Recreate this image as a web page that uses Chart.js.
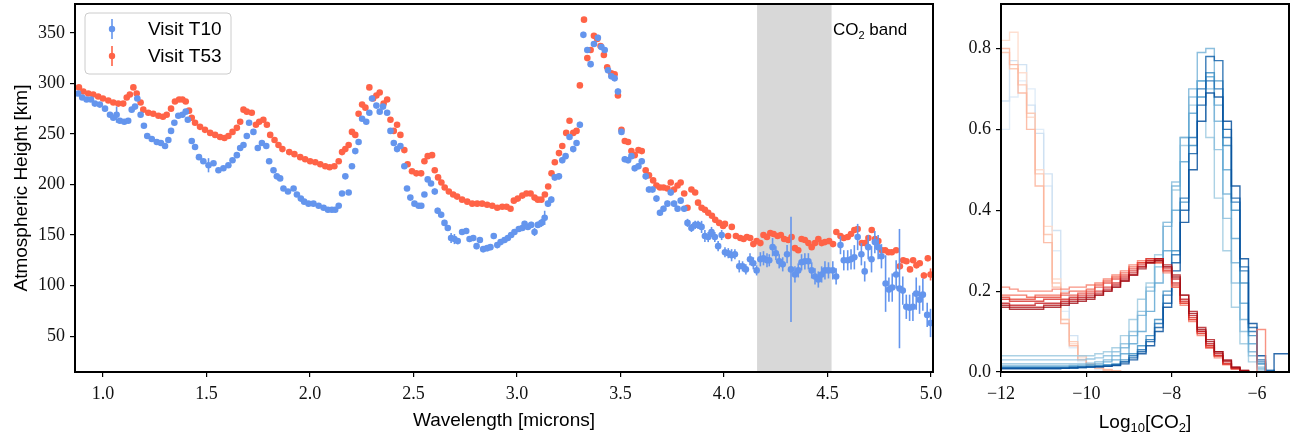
<!DOCTYPE html>
<html>
<head>
<meta charset="utf-8">
<script src="https://cdn.jsdelivr.net/npm/chart.js@4.4.1/dist/chart.umd.min.js"></script>
<style>
  html, body { margin: 0; padding: 0; background: #fff; }
  body { width: 1299px; height: 441px; position: relative; overflow: hidden; }
  #specWrap { position: absolute; left: 0; top: 0; width: 950px; height: 441px; }
  #histWrap { position: absolute; left: 950px; top: 0; width: 349px; height: 441px; }
</style>
</head>
<body>
<div id="specWrap"><canvas id="specChart" width="950" height="441"></canvas></div>
<div id="histWrap"><canvas id="histChart" width="349" height="441"></canvas></div>
<script>
// ---- spectrum data: [wavelength (micron), height (km), error (km)] ----
const t10Points = [
  [0.880,290,2],[0.900,286,2],[0.921,284,2],[0.942,284,2],[0.961,280,2],[0.985,279,2],
  [1.010,275,2],[1.034,269,2],[1.050,266,2],[1.066,269,8],[1.082,263,2],[1.103,262,2],
  [1.122,263,2],[1.139,274,2],[1.155,277,2],[1.166,285,2],[1.182,269,2],[1.198,258,2],
  [1.214,248,2],[1.236,245,2],[1.260,242,2],[1.280,241,2],[1.300,238,2],[1.316,244,2],
  [1.329,253,2],[1.345,261,2],[1.364,268,2],[1.384,269,2],[1.400,272,2],[1.410,264,2],
  [1.429,243,2],[1.445,237,2],[1.464,227,2],[1.485,223,2],[1.510,219,7],[1.534,221,2],
  [1.558,214,2],[1.582,216,2],[1.606,219,2],[1.626,224,2],[1.647,229,2],[1.663,236,2],
  [1.679,239,2],[1.695,248,2],[1.706,261,2],[1.727,252,2],[1.748,236,2],[1.768,241,2],
  [1.789,238,2],[1.803,223,2],[1.824,214,2],[1.840,208,2],[1.856,206,2],[1.872,196,2],
  [1.894,193,2],[1.921,196,2],[1.937,190,2],[1.956,186,2],[1.972,183,2],[1.993,181,2],
  [2.017,181,2],[2.042,179,2],[2.066,177,2],[2.087,175,2],[2.106,175,2],[2.122,175,2],
  [2.139,179,2],[2.155,191,2],[2.171,208,2],[2.187,192,2],[2.203,218,2],[2.219,233,2],
  [2.235,242,2],[2.252,265,2],[2.272,262,2],[2.287,271,2],[2.300,285,2],[2.321,278,2],
  [2.337,272,2],[2.353,277,2],[2.373,271,2],[2.389,253,2],[2.405,241,2],[2.421,235,2],
  [2.437,238,2],[2.456,218,2],[2.469,196,2],[2.485,187,2],[2.505,181,2],[2.525,179,2],
  [2.538,179,2],[2.553,190,2],[2.569,205,2],[2.585,201,2],[2.603,193,3],[2.617,174,3],
  [2.634,170,3],[2.650,162,3],[2.666,157,3],[2.682,147,5],[2.698,146,5],[2.714,144,3],
  [2.735,153,3],[2.755,154,3],[2.771,146,3],[2.789,147,3],[2.805,139,3],[2.821,145,3],
  [2.837,136,3],[2.856,137,3],[2.872,138,3],[2.888,149,3],[2.905,140,3],[2.921,143,3],
  [2.940,145,3],[2.956,147,3],[2.972,150,3],[2.988,153,3],[3.009,156,3],[3.026,157,3],
  [3.037,161,3],[3.053,158,3],[3.069,160,3],[3.085,153,4],[3.101,160,3],[3.118,162,4],
  [3.134,167,7],[3.150,181,3],[3.166,185,3],[3.183,207,3],[3.203,208,3],[3.219,224,3],
  [3.235,228,3],[3.254,247,3],[3.272,235,3],[3.288,241,3],[3.304,259,3],[3.321,348,3],
  [3.340,333,3],[3.356,319,3],[3.372,339,3],[3.391,345,3],[3.408,336,3],[3.424,333,3],
  [3.440,313,3],[3.456,307,3],[3.472,305,3],[3.488,292,3],[3.505,252,3],[3.521,225,3],
  [3.537,224,3],[3.553,228,3],[3.569,216,3],[3.587,218,3],[3.603,223,3],[3.622,208,3],
  [3.638,195,3],[3.655,195,3],[3.674,186,3],[3.691,172,3],[3.708,176,3],[3.727,181,3],
  [3.743,192,3],[3.759,181,3],[3.776,176,3],[3.791,184,3],[3.808,176,3],[3.824,162,4],
  [3.843,157,4],[3.861,160,4],[3.875,160,4],[3.892,158,6],[3.908,149,6],[3.924,148,5],
  [3.940,153,5],[3.956,148,5],[3.972,139,5],[3.989,150,5],[4.005,133,5],[4.021,132,5],
  [4.037,130,6],[4.053,131,5],[4.074,119,6],[4.090,119,5],[4.106,116,5],[4.126,126,6],
  [4.142,122,6],[4.158,115,5],[4.176,126,7],[4.191,127,7],[4.208,125,7],[4.219,125,6],
  [4.235,138,9],[4.251,132,7],[4.267,124,7],[4.284,121,7],[4.305,131,9],[4.324,116,52],
  [4.343,111,8],[4.359,115,7],[4.375,123,8],[4.391,124,8],[4.408,124,8],[4.424,115,8],
  [4.440,109,8],[4.456,106,8],[4.472,111,8],[4.488,115,9],[4.505,115,8],[4.526,115,9],
  [4.542,109,8],[4.563,140,9],[4.579,125,10],[4.598,125,10],[4.614,126,10],[4.630,128,12],
  [4.646,148,13],[4.664,131,11],[4.680,114,10],[4.697,138,12],[4.713,126,13],[4.729,143,11],
  [4.745,138,12],[4.761,129,12],[4.781,102,28],[4.797,96,12],[4.813,98,14],[4.832,111,14],
  [4.848,97,59],[4.864,95,14],[4.881,79,12],[4.897,78,13],[4.913,79,14],[4.929,92,16],
  [4.945,86,14],[4.961,91,16],[4.982,71,12],[4.998,63,14]
];

const t53Points = [
  [0.884,296,1],[0.905,292,1],[0.929,290,1],[0.953,289,1],[0.977,287,1],[1.000,285,1],
  [1.026,283,1],[1.050,281,1],[1.074,280,1],[1.098,280,1],[1.115,286,1],[1.130,289,1],
  [1.147,296,1],[1.163,290,1],[1.182,281,1],[1.195,274,1],[1.219,271,1],[1.243,270,1],
  [1.268,268,1],[1.290,267,1],[1.308,269,1],[1.329,275,1],[1.348,282,1],[1.368,284,1],
  [1.384,284,1],[1.400,282,1],[1.416,273,1],[1.429,266,1],[1.445,261,1],[1.469,257,1],
  [1.493,254,1],[1.518,251,1],[1.542,249,1],[1.566,247,1],[1.587,246,1],[1.606,248,1],
  [1.626,252,1],[1.647,256,1],[1.663,262,1],[1.679,274,1],[1.695,272,1],[1.719,271,1],
  [1.739,259,1],[1.755,262,1],[1.775,264,1],[1.792,259,1],[1.808,249,1],[1.829,244,1],
  [1.848,239,1],[1.867,235,1],[1.900,232,1],[1.925,230,1],[1.953,227,1],[1.977,225,1],
  [2.001,223,1],[2.026,222,1],[2.050,220,1],[2.074,218,1],[2.095,217,1],[2.118,218,1],
  [2.139,223,1],[2.155,232,1],[2.171,235,1],[2.187,239,1],[2.203,252,1],[2.219,249,1],
  [2.235,270,1],[2.252,279,1],[2.268,276,1],[2.287,296,1],[2.305,285,1],[2.321,288,1],
  [2.337,291,1],[2.356,280,1],[2.373,284,1],[2.389,264,1],[2.405,253,1],[2.421,259,1],
  [2.437,249,1],[2.456,234,1],[2.472,220,1],[2.493,213,1],[2.514,211,1],[2.537,211,1],
  [2.553,223,1],[2.569,228,1],[2.590,229,1],[2.603,214,1],[2.619,207,1],[2.635,202,1],
  [2.651,197,1],[2.671,193,1],[2.692,190,1],[2.711,188,1],[2.735,185,1],[2.760,183,1],
  [2.784,181,1],[2.808,181,1],[2.832,181,1],[2.856,180,1],[2.881,179,1],[2.905,177,1],
  [2.929,178,1],[2.950,178,1],[2.969,176,1],[2.985,184,1],[3.004,186,1],[3.026,189,1],
  [3.046,191,1],[3.066,191,1],[3.085,187,1],[3.101,185,1],[3.118,185,1],[3.135,190,1],
  [3.151,198,1],[3.167,211,1],[3.183,222,1],[3.203,231,1],[3.219,238,1],[3.238,251,1],
  [3.254,263,1],[3.272,251,1],[3.288,253,1],[3.304,298,1],[3.324,363,1],[3.340,325,1],
  [3.356,333,1],[3.372,347,1],[3.388,344,1],[3.404,337,1],[3.420,328,1],[3.436,316,1],
  [3.456,310,1],[3.472,309,1],[3.488,288,1],[3.505,254,1],[3.521,243,1],[3.537,242,1],
  [3.553,233,1],[3.569,229,1],[3.587,234,1],[3.603,233,1],[3.622,214,1],[3.638,209,1],
  [3.658,204,1],[3.674,199,1],[3.691,197,1],[3.708,197,1],[3.727,196,1],[3.743,202,1],
  [3.759,195,1],[3.776,199,1],[3.791,202,1],[3.808,191,1],[3.824,177,1],[3.843,195,1],
  [3.861,192,1],[3.875,182,1],[3.892,177,1],[3.908,175,1],[3.924,172,1],[3.942,169,1],
  [3.958,165,1],[3.977,162,1],[3.996,159,1],[4.005,161,1],[4.020,149,1],[4.038,158,1],
  [4.058,149,1],[4.079,147,1],[4.095,146,1],[4.111,148,1],[4.127,147,1],[4.142,141,1],
  [4.158,144,1],[4.176,142,1],[4.191,150,1],[4.208,148,1],[4.224,152,1],[4.240,151,1],
  [4.259,149,1],[4.275,150,1],[4.291,146,1],[4.311,145,1],[4.327,148,1],[4.343,137,1],
  [4.359,135,1],[4.375,146,1],[4.391,145,1],[4.408,142,1],[4.424,138,1],[4.440,142,1],
  [4.456,146,1],[4.472,142,1],[4.488,143,1],[4.508,144,1],[4.527,141,1],[4.543,153,1],
  [4.563,149,1],[4.579,147,1],[4.598,148,1],[4.614,151,1],[4.630,155,1],[4.646,156,1],
  [4.666,142,1],[4.682,142,1],[4.698,147,1],[4.714,155,1],[4.730,146,1],[4.746,144,1],
  [4.763,135,1],[4.779,135,1],[4.795,133,1],[4.811,133,1],[4.832,135,2],[4.850,119,2],
  [4.866,125,2],[4.882,124,2],[4.899,116,2],[4.914,125,2],[4.930,120,2],[4.946,122,2],
  [4.966,110,3],[4.985,127,3],[4.998,111,6]
];

const co2Band = [4.16, 4.52];
const specXTicks = [1.0, 1.5, 2.0, 2.5, 3.0, 3.5, 4.0, 4.5, 5.0];
const specYTicks = [50, 100, 150, 200, 250, 300, 350];

// ---- posterior histograms of log10(CO2), bin edges -12.0 ... -5.2 ----
const binEdges = [-12.0,-11.8,-11.6,-11.4,-11.2,-11.0,-10.8,-10.6,-10.4,-10.2,-10.0,-9.8,
  -9.6,-9.4,-9.2,-9.0,-8.8,-8.6,-8.4,-8.2,-8.0,-7.8,-7.6,-7.4,-7.2,-7.0,-6.8,-6.6,-6.4,
  -6.2,-6.0,-5.8,-5.6,-5.4,-5.2];

const blueHist1 = [0.55,0.60,0.68,0.72,0.70,0.60,0.46,0.30,0.15,0.06,0.025,0.012,0.006,0.004,0.002,0,0,0,0,0,0,0,0,0,0,0,0,0,0,0,0,0,0,0];
const blueHist2 = [0.66,0.67,0.77,0.76,0.66,0.59,0.49,0.35,0.20,0.09,0.04,0.02,0.01,0.005,0.003,0,0,0,0,0,0,0,0,0,0,0,0,0,0,0,0,0,0,0];
const blueHist3 = [0.04,0.04,0.04,0.04,0.04,0.04,0.04,0.04,0.04,0.04,0.04,0.04,0.045,0.05,0.06,0.09,0.13,0.18,0.22,0.29,0.37,0.45,0.56,0.66,0.72,0.58,0.43,0.30,0.16,0.07,0.025,0.005,0,0];
const blueHist9 = [0.03,0.03,0.03,0.03,0.03,0.03,0.03,0.03,0.03,0.03,0.03,0.032,0.035,0.04,0.05,0.07,0.10,0.15,0.21,0.28,0.37,0.47,0.58,0.68,0.72,0.70,0.55,0.38,0.22,0.10,0.04,0.008,0,0];
const blueHist4 = [0.02,0.02,0.02,0.02,0.02,0.02,0.02,0.02,0.02,0.02,0.02,0.022,0.025,0.03,0.04,0.06,0.09,0.14,0.20,0.26,0.36,0.46,0.58,0.70,0.79,0.80,0.62,0.44,0.27,0.13,0.05,0.012,0,0];
const blueHist5 = [0.015,0.015,0.015,0.015,0.015,0.015,0.015,0.015,0.015,0.016,0.017,0.018,0.02,0.025,0.03,0.045,0.07,0.10,0.15,0.22,0.30,0.40,0.52,0.64,0.72,0.73,0.66,0.50,0.33,0.17,0.07,0.02,0.003,0];
const blueHist6 = [0.012,0.012,0.012,0.012,0.012,0.012,0.012,0.012,0.012,0.013,0.014,0.015,0.016,0.018,0.02,0.03,0.045,0.065,0.09,0.13,0.20,0.30,0.42,0.56,0.68,0.74,0.72,0.56,0.40,0.22,0.09,0.02,0.003,0];
const blueHist10 = [0.01,0.01,0.01,0.01,0.01,0.01,0.01,0.01,0.01,0.01,0.011,0.012,0.013,0.015,0.018,0.025,0.04,0.055,0.08,0.12,0.19,0.29,0.43,0.58,0.70,0.72,0.70,0.58,0.42,0.25,0.10,0.025,0.004,0];
const blueHist7 = [0.01,0.01,0.01,0.01,0.01,0.01,0.01,0.01,0.01,0.011,0.012,0.013,0.014,0.015,0.017,0.025,0.035,0.05,0.075,0.11,0.17,0.27,0.40,0.54,0.66,0.78,0.77,0.60,0.43,0.26,0.11,0.03,0.004,0];
const blueHist8 = [0.008,0.008,0.008,0.008,0.008,0.008,0.008,0.008,0.009,0.01,0.011,0.012,0.013,0.014,0.016,0.02,0.03,0.045,0.065,0.10,0.16,0.25,0.37,0.50,0.62,0.69,0.68,0.62,0.46,0.28,0.12,0.04,0,0.045];

const redHist1 = [0.87,0.82,0.84,0.74,0.63,0.50,0.36,0.23,0.13,0.07,0.035,0.02,0.01,0.005,0.003,0,0,0,0,0,0,0,0,0,0,0,0,0,0,0,0,0,0,0];
const redHist2 = [0.80,0.79,0.75,0.71,0.64,0.49,0.34,0.22,0.13,0.075,0.04,0.02,0.012,0.006,0.003,0,0,0,0,0,0,0,0,0,0,0,0,0,0,0,0,0,0,0];
const redHist3 = [0.78,0.80,0.76,0.69,0.60,0.46,0.32,0.21,0.12,0.065,0.03,0.018,0.01,0.005,0.002,0,0,0,0,0,0,0,0,0,0,0,0,0,0,0,0,0,0,0];
const redHist4 = [0.21,0.21,0.205,0.20,0.20,0.20,0.20,0.205,0.205,0.21,0.21,0.215,0.22,0.23,0.24,0.25,0.265,0.275,0.28,0.27,0.245,0.21,0.165,0.125,0.09,0.06,0.035,0.018,0.008,0.002,0,0.105,0,0];
const redHist5 = [0.195,0.19,0.19,0.19,0.185,0.19,0.19,0.19,0.195,0.20,0.20,0.205,0.215,0.225,0.235,0.245,0.26,0.27,0.275,0.27,0.25,0.21,0.17,0.13,0.095,0.065,0.04,0.02,0.008,0.002,0,0,0,0];
const redHist9 = [0.185,0.185,0.18,0.18,0.18,0.185,0.185,0.185,0.19,0.19,0.195,0.20,0.21,0.22,0.23,0.24,0.255,0.27,0.27,0.28,0.25,0.215,0.17,0.13,0.095,0.06,0.04,0.02,0.008,0.002,0,0,0,0];
const redHist6 = [0.18,0.18,0.175,0.175,0.175,0.175,0.18,0.18,0.18,0.185,0.19,0.195,0.20,0.21,0.22,0.235,0.25,0.265,0.28,0.275,0.255,0.22,0.175,0.135,0.10,0.065,0.04,0.02,0.01,0.003,0,0,0,0];
const redHist7 = [0.17,0.17,0.165,0.165,0.165,0.17,0.17,0.17,0.175,0.18,0.185,0.19,0.195,0.205,0.215,0.23,0.245,0.26,0.275,0.28,0.26,0.23,0.18,0.14,0.10,0.07,0.045,0.025,0.01,0.003,0,0,0,0];
const redHist10 = [0.165,0.165,0.16,0.16,0.16,0.16,0.165,0.165,0.17,0.175,0.18,0.185,0.19,0.20,0.21,0.225,0.24,0.26,0.27,0.28,0.265,0.24,0.19,0.15,0.11,0.08,0.05,0.028,0.012,0.004,0,0,0,0];
const redHist8 = [0.16,0.16,0.155,0.155,0.155,0.155,0.16,0.16,0.165,0.17,0.175,0.18,0.19,0.20,0.21,0.225,0.24,0.255,0.27,0.275,0.26,0.235,0.19,0.145,0.105,0.075,0.05,0.03,0.012,0.004,0,0,0,0];

const blueShades = ['rgba(222,235,247,0.9)','rgba(205,224,242,0.9)','rgba(158,202,225,0.85)','rgba(140,192,222,0.85)',
  'rgba(120,180,216,0.85)','rgba(98,168,211,0.85)','rgba(66,146,198,0.85)','rgba(40,120,185,0.85)',
  'rgba(22,100,170,0.85)','rgba(8,81,156,0.85)'];
const redShades = ['rgba(254,220,204,0.9)','rgba(252,198,176,0.9)','rgba(251,180,155,0.85)','rgba(246,120,100,0.8)',
  'rgba(240,88,68,0.8)','rgba(230,68,55,0.8)','rgba(215,45,40,0.8)','rgba(195,28,32,0.8)',
  'rgba(178,20,26,0.8)','rgba(160,12,20,0.8)'];

const histXTicks = [-12, -10, -8, -6];
const histYTicks = [0, 0.2, 0.4, 0.6, 0.8];

const T10_COLOR = '#6495ED';
const T53_COLOR = '#FF6347';
const SERIF = '"Liberation Serif", "DejaVu Serif", serif';
const SANS = '"Liberation Sans", Arial, sans-serif';

function fixedTicks(values) {
    return (scale) => { scale.ticks = values.map(v => ({ value: v })); };
}

function minusLabel(v) {
    return v < 0 ? '\u2212' + Math.abs(v) : String(v);
}

function drawFrame(chart) {
    const { ctx, chartArea: a } = chart;
    ctx.save();
    ctx.strokeStyle = '#000';
    ctx.lineWidth = 2;
    ctx.strokeRect(a.left, a.top, a.right - a.left, a.bottom - a.top);
    ctx.restore();
}

// draw text with subscript parts: parts = [[text, isSub], ...]
function drawRichText(ctx, parts, cx, cy, size) {
    const subSize = Math.round(size * 0.7);
    let total = 0;
    parts.forEach(([t, sub]) => {
        ctx.font = (sub ? subSize : size) + 'px ' + SANS;
        total += ctx.measureText(t).width;
    });
    let x = cx - total / 2;
    ctx.textBaseline = 'alphabetic';
    ctx.textAlign = 'left';
    parts.forEach(([t, sub]) => {
        ctx.font = (sub ? subSize : size) + 'px ' + SANS;
        ctx.fillText(t, x, cy + (sub ? size * 0.22 : 0));
        x += ctx.measureText(t).width;
    });
}

function tickScale(min, max, ticks, fmt, fitSize, isX) {
    return {
        type: 'linear',
        min: min,
        max: max,
        afterBuildTicks: fixedTicks(ticks),
        afterFit: (scale) => {
            if (isX) scale.height = fitSize; else scale.width = fitSize;
            // labels never sit on the axis ends, so no extra room is needed
            scale.paddingTop = 0;
            scale.paddingBottom = 0;
            scale.paddingLeft = 0;
            scale.paddingRight = 0;
        },
        grid: { display: true, drawOnChartArea: false, drawTicks: true, tickLength: 5, color: '#000', lineWidth: 1.2 },
        border: { display: false },
        ticks: {
            autoSkip: false,
            maxRotation: 0,
            color: '#111',
            padding: isX ? 6 : 5,
            font: { family: SERIF, size: 18 },
            callback: fmt
        }
    };
}

const specPlugin = {
    id: 'specDecor',
    beforeDatasetsDraw(chart) {
        const { ctx, chartArea: a, scales } = chart;
        const x0 = scales.x.getPixelForValue(co2Band[0]);
        const x1 = scales.x.getPixelForValue(co2Band[1]);
        ctx.save();
        ctx.fillStyle = '#d8d8d8';
        ctx.fillRect(x0, a.top, x1 - x0, a.bottom - a.top);
        ctx.restore();
    },
    beforeDatasetDraw(chart, args) {
        const { ctx, chartArea: a, scales } = chart;
        const ds = chart.data.datasets[args.index];
        ctx.save();
        ctx.beginPath();
        ctx.rect(a.left, a.top, a.right - a.left, a.bottom - a.top);
        ctx.clip();
        ctx.strokeStyle = ds.backgroundColor;
        ctx.lineWidth = 1.6;
        ds.errors.forEach((e, i) => {
            const p = ds.data[i];
            const x = scales.x.getPixelForValue(p.x);
            ctx.beginPath();
            ctx.moveTo(x, scales.y.getPixelForValue(p.y - e));
            ctx.lineTo(x, scales.y.getPixelForValue(p.y + e));
            ctx.stroke();
        });
        ctx.restore();
    },
    afterDraw(chart) {
        const { ctx, chartArea: a } = chart;
        drawFrame(chart);
        ctx.save();
        // legend box
        const lx = a.left + 10, ly = a.top + 9, lw = 146, lh = 61, r = 4;
        ctx.beginPath();
        ctx.moveTo(lx + r, ly);
        ctx.arcTo(lx + lw, ly, lx + lw, ly + lh, r);
        ctx.arcTo(lx + lw, ly + lh, lx, ly + lh, r);
        ctx.arcTo(lx, ly + lh, lx, ly, r);
        ctx.arcTo(lx, ly, lx + lw, ly, r);
        ctx.closePath();
        ctx.fillStyle = 'rgba(255,255,255,0.85)';
        ctx.fill();
        ctx.strokeStyle = '#cccccc';
        ctx.lineWidth = 1;
        ctx.stroke();
        chart.data.datasets.forEach((ds, i) => {
            const cy = ly + 16 + i * 27;
            const mx = lx + 27;
            ctx.strokeStyle = ds.backgroundColor;
            ctx.fillStyle = ds.backgroundColor;
            ctx.lineWidth = 1.6;
            ctx.beginPath();
            ctx.moveTo(mx, cy - 10);
            ctx.lineTo(mx, cy + 10);
            ctx.stroke();
            ctx.beginPath();
            ctx.arc(mx, cy, 3.2, 0, Math.PI * 2);
            ctx.fill();
            ctx.fillStyle = '#000';
            ctx.font = '19px ' + SANS;
            ctx.textAlign = 'left';
            ctx.textBaseline = 'middle';
            ctx.fillText(ds.label, lx + 63, cy + 1);
        });
        // band label
        ctx.fillStyle = '#000';
        ctx.textAlign = 'left';
        ctx.textBaseline = 'alphabetic';
        ctx.font = '17px ' + SANS;
        let tx = 833;
        ctx.fillText('CO', tx, 35);
        tx += ctx.measureText('CO').width;
        ctx.font = '11px ' + SANS;
        ctx.fillText('2', tx, 39);
        tx += ctx.measureText('2').width;
        ctx.font = '17px ' + SANS;
        ctx.fillText(' band', tx, 35);
        // axis titles
        ctx.font = '19px ' + SANS;
        ctx.textAlign = 'center';
        ctx.textBaseline = 'middle';
        ctx.fillText('Wavelength [microns]', (a.left + a.right) / 2, 421);
        ctx.translate(22, (a.top + a.bottom) / 2);
        ctx.rotate(-Math.PI / 2);
        ctx.fillText('Atmospheric Height [km]', 0, 0);
        ctx.restore();
    }
};

const histPlugin = {
    id: 'histDecor',
    afterDraw(chart) {
        const { ctx, chartArea: a } = chart;
        drawFrame(chart);
        ctx.save();
        ctx.fillStyle = '#000';
        drawRichText(ctx, [['Log', false], ['10', true], ['[CO', false], ['2', true], [']', false]],
            (a.left + a.right) / 2, 428, 19);
        ctx.restore();
    }
};

function toPoints(rows) {
    return rows.map(r => ({ x: r[0], y: r[1] }));
}

function histPoints(values) {
    const pts = [{ x: binEdges[0], y: 0 }];
    values.forEach((v, i) => pts.push({ x: binEdges[i], y: v }));
    pts.push({ x: binEdges[values.length], y: values[values.length - 1] });
    pts.push({ x: binEdges[values.length], y: 0 });
    return pts;
}

new Chart(document.getElementById('specChart'), {
    type: 'scatter',
    data: {
        datasets: [
            {
                label: 'Visit T10',
                data: toPoints(t10Points),
                errors: t10Points.map(r => r[2]),
                backgroundColor: T10_COLOR,
                borderWidth: 0,
                pointRadius: 3.3
            },
            {
                label: 'Visit T53',
                data: toPoints(t53Points),
                errors: t53Points.map(r => r[2]),
                backgroundColor: T53_COLOR,
                borderWidth: 0,
                pointRadius: 3.3
            }
        ]
    },
    options: {
        responsive: false,
        animation: false,
        events: [],
        layout: { padding: { left: 0, top: 4, right: 17, bottom: 0 } },
        plugins: { legend: { display: false }, tooltip: { enabled: false } },
        scales: {
            x: tickScale(0.865, 5.01, specXTicks, v => v.toFixed(1), 69, true),
            y: tickScale(14.5, 378.5, specYTicks, v => String(v), 75, false)
        }
    },
    plugins: [specPlugin]
});

// drawn bottom first: faint unconstrained posteriors, then the constrained ones light to dark
const histSets = [
    [blueHist1, blueShades[0]], [blueHist2, blueShades[1]],
    [redHist1, redShades[0]], [redHist2, redShades[1]], [redHist3, redShades[2]],
    [blueHist3, blueShades[2]], [blueHist9, blueShades[3]], [blueHist4, blueShades[4]],
    [blueHist5, blueShades[5]], [blueHist6, blueShades[6]], [blueHist10, blueShades[7]],
    [blueHist7, blueShades[8]], [blueHist8, blueShades[9]],
    [redHist4, redShades[3]], [redHist5, redShades[4]], [redHist9, redShades[5]],
    [redHist6, redShades[6]], [redHist7, redShades[7]], [redHist10, redShades[8]],
    [redHist8, redShades[9]]
];

new Chart(document.getElementById('histChart'), {
    type: 'scatter',
    data: {
        datasets: histSets.map(([vals, color], i) => ({
            data: histPoints(vals),
            showLine: true,
            stepped: 'after',
            borderColor: color,
            borderWidth: 1.4,
            pointRadius: 0,
            fill: false,
            order: histSets.length - i
        }))
    },
    options: {
        responsive: false,
        animation: false,
        events: [],
        layout: { padding: { left: 0, top: 4, right: 10, bottom: 0 } },
        plugins: { legend: { display: false }, tooltip: { enabled: false } },
        scales: {
            x: tickScale(-12, -5.25, histXTicks, v => minusLabel(v), 69, true),
            y: tickScale(0, 0.91, histYTicks, v => v.toFixed(1), 51, false)
        }
    },
    plugins: [histPlugin]
});
</script>
</body>
</html>
